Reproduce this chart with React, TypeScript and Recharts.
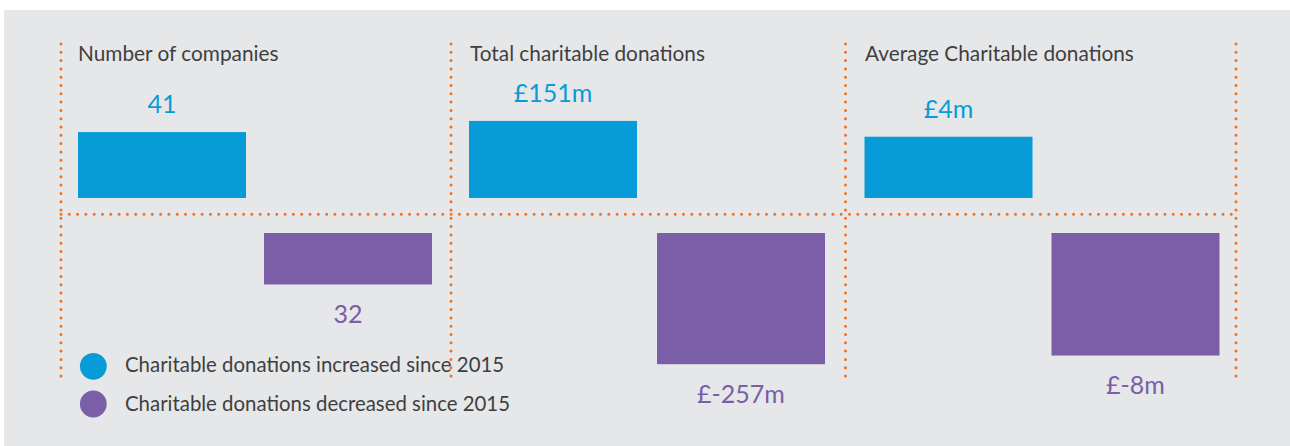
import React from 'react';
import { BarChart, Bar, XAxis, YAxis, Cell } from 'recharts';

// ---- data ----
const categories = ['increased', 'decreased'];
const legendLabels = [
  'Charitable donations increased since 2015',
  'Charitable donations decreased since 2015',
];
const panelTitles = ['Number of companies', 'Total charitable donations', 'Average Charitable donations'];
const companiesValues = [41, -32];
const totalDonationsValues = [151, -257];
const averageDonationsValues = [4, -8];
const companiesLabels = ['41', '32'];
const totalDonationsLabels = ['£151m', '£-257m'];
const averageDonationsLabels = ['£4m', '£-8m'];

// ---- styles ----
const seriesColors = ['#079bd7', '#7a5ea8'];
const FONT = "Lato, 'Open Sans', sans-serif";
const TEXT_COLOR = '#3f3f42';
const DOT_COLOR = '#f2711f';
const BG = '#e6e7e9';
const GAP_UP = 16;
const GAP_DOWN = 19;
const CHART_TOP = 0;
const CHART_HEIGHT = 428;

const panels = [
  { title: panelTitles[0], values: companiesValues, labels: companiesLabels, left: 61, width: 390, ml: 8, mr: 10, domainMax: 133.1, titleX: 78 },
  { title: panelTitles[1], values: totalDonationsValues, labels: totalDonationsLabels, left: 451, width: 394, ml: 8, mr: 10, domainMax: 419.2, titleX: 470 },
  { title: panelTitles[2], values: averageDonationsValues, labels: averageDonationsLabels, left: 845, width: 391, ml: 9.5, mr: 7.5, domainMax: 13.97, titleX: 865 },
];

const OffsetBar = (props: any) => {
  const { x, y, width, height, fill, payload, index } = props;
  const top = Math.min(y, y + height);
  const h = Math.abs(height);
  const positive = payload.value >= 0;
  const color = fill || seriesColors[index];
  const ry = positive ? top - GAP_UP : top + GAP_DOWN;
  const cx = x + width / 2;
  const ty = positive ? ry - 19 : ry + h + 38.5;
  return (
    <g>
      <rect x={x} y={ry} width={width} height={h} fill={color} />
      <text x={cx} y={ty} textAnchor="middle" fill={color} fontSize={25} fontFamily={FONT}>
        {payload.label}
      </text>
    </g>
  );
};

const Panel = ({ p }: { p: any }) => {
  const data = categories.map((c, i) => ({ category: c, value: p.values[i], label: p.labels[i] }));
  return (
    <div style={{ position: 'absolute', left: p.left, top: CHART_TOP }}>
      <BarChart width={p.width} height={CHART_HEIGHT} data={data} margin={{ top: 0, right: p.mr, bottom: 0, left: p.ml }}>
        <XAxis dataKey="category" type="category" hide />
        <YAxis type="number" domain={[-p.domainMax, p.domainMax]} hide />
        <Bar dataKey="value" barSize={168} isAnimationActive={false} shape={OffsetBar}>
          {data.map((d, i) => (
            <Cell key={i} fill={seriesColors[i]} />
          ))}
        </Bar>
      </BarChart>
    </div>
  );
};

const vLines = [61, 451, 845.5, 1236];

export default function App() {
  return (
    <div style={{ position: 'absolute', left: 0, top: 0, width: 1290, height: 446, background: '#ffffff', overflow: 'hidden' }}>
      <div style={{ position: 'absolute', left: 4, top: 10, width: 1286, height: 436, background: BG }} />
      <svg style={{ position: 'absolute', left: 0, top: 0 }} width={1290} height={446}>
        {vLines.map((x, i) => (
          <line key={'v' + i} x1={x} x2={x} y1={44} y2={384} stroke={DOT_COLOR} strokeWidth={3} strokeDasharray="0 8.3" strokeLinecap="round" />
        ))}
        <line x1={61} x2={1236} y1={214.3} y2={214.3} stroke={DOT_COLOR} strokeWidth={3} strokeDasharray="0 8.3" strokeLinecap="round" />
        {panels.map((p, i) => (
          <text key={'t' + i} x={p.titleX} y={60.5} fontSize={20.8} fontFamily={FONT} fill={TEXT_COLOR}>
            {p.title}
          </text>
        ))}
        {legendLabels.map((l, i) => (
          <g key={'l' + i}>
            <circle cx={93.3} cy={i === 0 ? 366.3 : 404} r={13.4} fill={seriesColors[i]} />
            <text x={125} y={i === 0 ? 372 : 410.5} fontSize={20.4} fontFamily={FONT} fill={TEXT_COLOR}>
              {l}
            </text>
          </g>
        ))}
      </svg>
      {panels.map((p, i) => (
        <Panel key={i} p={p} />
      ))}
    </div>
  );
}
